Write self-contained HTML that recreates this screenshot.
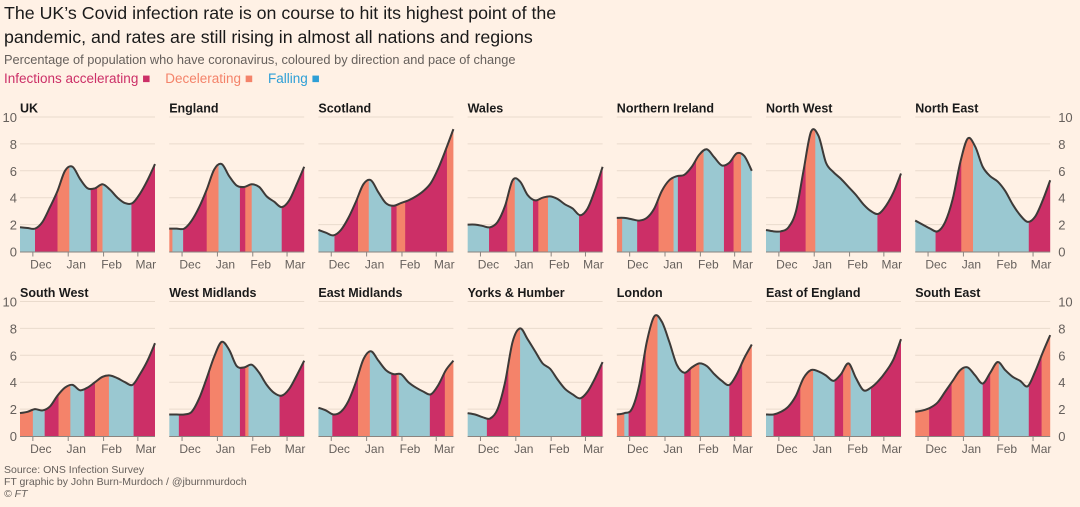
<!DOCTYPE html>
<html><head><meta charset="utf-8"><style>
body{margin:0;background:#fff1e5;}
#wrap{position:relative;width:1080px;height:507px;overflow:hidden;background:#fff1e5;font-family:"Liberation Sans",sans-serif;}
.t{position:absolute;left:4px;color:#1a1a1a;font-size:17.8px;line-height:24px;white-space:nowrap;}
.sub{position:absolute;left:4px;top:52px;color:#66605c;font-size:12.8px;white-space:nowrap;}
.leg{position:absolute;left:4px;top:71px;font-size:13.5px;white-space:nowrap;}
.foot{position:absolute;left:4px;color:#66605c;font-size:10.5px;white-space:nowrap;}
</style></head><body>
<div id="wrap">
<div class="t" style="top:1px">The UK’s Covid infection rate is on course to hit its highest point of the<br>pandemic, and rates are still rising in almost all nations and regions</div>
<div class="sub">Percentage of population who have coronavirus, coloured by direction and pace of change</div>
<div class="leg"><span style="color:#cc2f67">Infections accelerating ■</span>&nbsp;&nbsp;&nbsp; <span style="color:#f4836a">Decelerating ■</span>&nbsp;&nbsp;&nbsp; <span style="color:#2e9fd6">Falling ■</span></div>
<svg id="svg" width="1080" height="507" style="position:absolute;left:0;top:0"></svg>
<div class="foot" style="top:464px">Source: ONS Infection Survey</div>
<div class="foot" style="top:476px">FT graphic by John Burn-Murdoch / @jburnmurdoch</div>
<div class="foot" style="top:488px;font-style:italic">© FT</div>
</div>
<script>
const days=[0,7,14,21,28,35,42,49,56,63,70,77,84,91,98,105,112,119,126];
const yTicks=[0,2,4,6,8,10];
const monthLabels=["Dec","Jan","Feb","Mar"];
const monthDays=[12,45,78,110];
const names=["UK","England","Scotland","Wales","Northern Ireland","North West","North East","South West","West Midlands","East Midlands","Yorks & Humber","London","East of England","South East"];
const vUK=[1.8,1.75,1.7,2.2,3.3,4.5,6.0,6.3,5.4,4.7,4.7,5.0,4.6,4.0,3.6,3.6,4.3,5.3,6.5];
const vEng=[1.7,1.7,1.7,2.3,3.3,4.6,6.1,6.5,5.6,4.9,4.8,5.0,4.8,4.1,3.7,3.3,3.8,5.0,6.3];
const vSco=[1.6,1.4,1.2,1.6,2.5,3.7,5.0,5.3,4.4,3.6,3.4,3.6,3.8,4.1,4.5,5.1,6.2,7.6,9.1];
const vWal=[2.0,2.0,1.9,1.8,2.2,3.4,5.3,5.2,4.2,3.8,4.0,4.1,3.9,3.5,3.2,2.7,3.2,4.6,6.3];
const vNI=[2.5,2.5,2.4,2.3,2.5,3.2,4.5,5.3,5.6,5.7,6.3,7.2,7.6,7.0,6.4,6.6,7.3,7.1,6.0];
const vNW=[1.6,1.5,1.5,1.8,3.0,6.0,8.9,8.6,6.6,5.9,5.4,4.8,4.2,3.5,3.0,2.8,3.4,4.4,5.8];
const vNE=[2.3,2.0,1.7,1.5,2.2,3.9,6.6,8.4,7.8,6.3,5.6,5.2,4.5,3.5,2.7,2.2,2.6,3.8,5.3];
const vSW=[1.7,1.8,2.0,1.9,2.2,3.0,3.6,3.8,3.4,3.6,4.0,4.4,4.5,4.3,4.0,3.8,4.6,5.6,6.9];
const vWM=[1.6,1.6,1.6,1.8,2.8,4.3,5.9,7.0,6.4,5.2,5.1,5.3,4.7,3.8,3.2,3.0,3.5,4.5,5.6];
const vEM=[2.1,1.9,1.6,1.8,2.6,4.0,5.7,6.3,5.6,4.9,4.6,4.6,4.0,3.6,3.3,3.1,3.8,4.9,5.6];
const vYH=[1.7,1.6,1.4,1.3,2.0,4.0,7.0,8.0,7.2,6.3,5.4,5.0,4.2,3.5,3.1,2.8,3.3,4.3,5.5];
const vLon=[1.6,1.7,2.0,3.8,7.0,8.9,8.5,7.0,5.3,4.7,5.1,5.4,5.2,4.6,4.1,3.8,4.6,5.8,6.8];
const vEoE=[1.6,1.6,1.8,2.2,3.0,4.3,4.9,4.8,4.5,4.1,4.6,5.4,4.3,3.4,3.6,4.1,4.8,5.7,7.2];
const vSE=[1.8,1.9,2.1,2.5,3.3,4.1,4.9,5.1,4.5,3.9,4.7,5.5,4.9,4.4,4.1,3.7,4.8,6.2,7.5];
const series=[vUK,vEng,vSco,vWal,vNI,vNW,vNE,vSW,vWM,vEM,vYH,vLon,vEoE,vSE];
// phases: [endDay, code] a=accelerating d=decelerating f=falling
const pUK=[[14,'f'],[35,'a'],[46,'d'],[66,'f'],[72,'a'],[77,'d'],[104,'f'],[126,'a']];
const pEng=[[3,'d'],[13,'f'],[35,'a'],[46,'d'],[66,'f'],[71,'a'],[77,'d'],[105,'f'],[126,'a']];
const pSco=[[15,'f'],[37,'a'],[47,'d'],[68,'f'],[73,'a'],[81,'d'],[120,'a'],[126,'d']];
const pWal=[[20,'f'],[37,'a'],[44,'d'],[61,'f'],[66,'a'],[75,'d'],[104,'f'],[126,'a']];
const pNI=[[5,'d'],[19,'f'],[39,'a'],[53,'d'],[57,'f'],[74,'a'],[81,'d'],[100,'f'],[109,'a'],[116,'d'],[126,'f']];
const pNW=[[13,'f'],[37,'a'],[46,'d'],[104,'f'],[126,'a']];
const pNE=[[19,'f'],[43,'a'],[54,'d'],[106,'f'],[126,'a']];
const pSW=[[12,'d'],[23,'f'],[36,'a'],[47,'d'],[60,'f'],[70,'a'],[83,'d'],[106,'f'],[126,'a']];
const pWM=[[9,'f'],[38,'a'],[50,'d'],[66,'f'],[71,'a'],[74,'d'],[103,'f'],[126,'a']];
const pEM=[[13,'f'],[37,'a'],[48,'d'],[68,'f'],[73,'a'],[75,'d'],[104,'f'],[118,'a'],[126,'d']];
const pYH=[[18,'f'],[38,'a'],[49,'d'],[106,'f'],[126,'a']];
const pLon=[[7,'d'],[11,'f'],[27,'a'],[38,'d'],[63,'f'],[69,'a'],[77,'d'],[105,'f'],[117,'a'],[126,'d']];
const pEoE=[[7,'f'],[32,'a'],[44,'d'],[64,'f'],[72,'a'],[79,'d'],[98,'f'],[126,'a']];
const pSE=[[13,'d'],[34,'a'],[46,'d'],[63,'f'],[70,'a'],[78,'d'],[106,'f'],[118,'a'],[126,'d']];
const phases=[pUK,pEng,pSco,pWal,pNI,pNW,pNE,pSW,pWM,pEM,pYH,pLon,pEoE,pSE];

const colors={a:'#cc2f67',d:'#f4836a',f:'#9ac8d1'};
const NS='http://www.w3.org/2000/svg';
const svg=document.getElementById('svg');
function mk(tag,attrs,parent){const e=document.createElementNS(NS,tag);for(const k in attrs)e.setAttribute(k,attrs[k]);(parent||svg).appendChild(e);return e;}
const PW=135, PH=134.5, X0=20, STEP=149.2, ROWY=[251.5,436];
function smoothPath(pts){let d='M'+pts[0][0]+','+pts[0][1];for(let i=0;i<pts.length-1;i++){const p0=pts[Math.max(0,i-1)],p1=pts[i],p2=pts[i+1],p3=pts[Math.min(pts.length-1,i+2)];const c1=[p1[0]+(p2[0]-p0[0])/6,p1[1]+(p2[1]-p0[1])/6],c2=[p2[0]-(p3[0]-p1[0])/6,p2[1]-(p3[1]-p1[1])/6];d+=' C'+c1[0].toFixed(2)+','+c1[1].toFixed(2)+' '+c2[0].toFixed(2)+','+c2[1].toFixed(2)+' '+p2[0].toFixed(2)+','+p2[1].toFixed(2);}return d;}
series.forEach((vals,idx)=>{
  const row=Math.floor(idx/7), col=idx%7;
  const x0=X0+col*STEP, yb=ROWY[row];
  const xs=d=>x0+d/126*PW, ys=v=>yb-v/10*PH;
  const g=mk('g',{});
  
  
  yTicks.forEach(t=>{if(t>0){const gl=mk('line',{x1:x0,x2:x0+PW,y1:ys(t),y2:ys(t),stroke:'#eadbcd','stroke-width':1},g);}});
  const pts=days.map((d,i)=>[xs(d),ys(vals[i])]);
  const line=smoothPath(pts);
  const cp=mk('clipPath',{id:'clip'+idx},g);
  mk('path',{d:line+' L'+xs(126)+','+yb+' L'+xs(0)+','+yb+' Z'},cp);
  let start=0;
  phases[idx].forEach(([end,c])=>{
    const r=mk('rect',{x:xs(start),y:ys(10.5),width:xs(end)-xs(start)+0.3,height:yb-ys(10.5),fill:colors[c],'clip-path':'url(#clip'+idx+')'},g);
    
    
    start=end;
  });
  const ln=mk('path',{d:line,fill:'none',stroke:'#3d3a38','stroke-width':2},g);
  
  
  const ax=mk('line',{x1:x0,x2:x0+PW,y1:yb+0.5,y2:yb+0.5,stroke:'#8a8480','stroke-width':1},g);
  
  
  monthDays.forEach((md,i)=>{
    mk('line',{x1:xs(md),x2:xs(md),y1:yb,y2:yb+5,stroke:'#8a8480','stroke-width':1},g);
    const tx=mk('text',{x:xs(md)+8,y:yb+17,'text-anchor':'middle','font-size':12,fill:'#66605c','font-family':'Liberation Sans, sans-serif'},g);
    tx.textContent=monthLabels[i];
    
    
  });
  const ti=mk('text',{x:x0,y:yb-139,'font-size':12.5,'font-weight':'bold',fill:'#1a1a1a','font-family':'Liberation Sans, sans-serif'},g);
  ti.textContent=names[idx];
  
  
  if(col===0||col===6){
    yTicks.forEach(t=>{
      const tl=mk('text',{x:col===0?x0-3:x0+PW+8,y:ys(t)+5,'text-anchor':col===0?'end':'start','font-size':13,fill:'#66605c','font-family':'Liberation Sans, sans-serif'},g);
      tl.textContent=t;
      
      
    });
  }
});
</script>
</body></html>
